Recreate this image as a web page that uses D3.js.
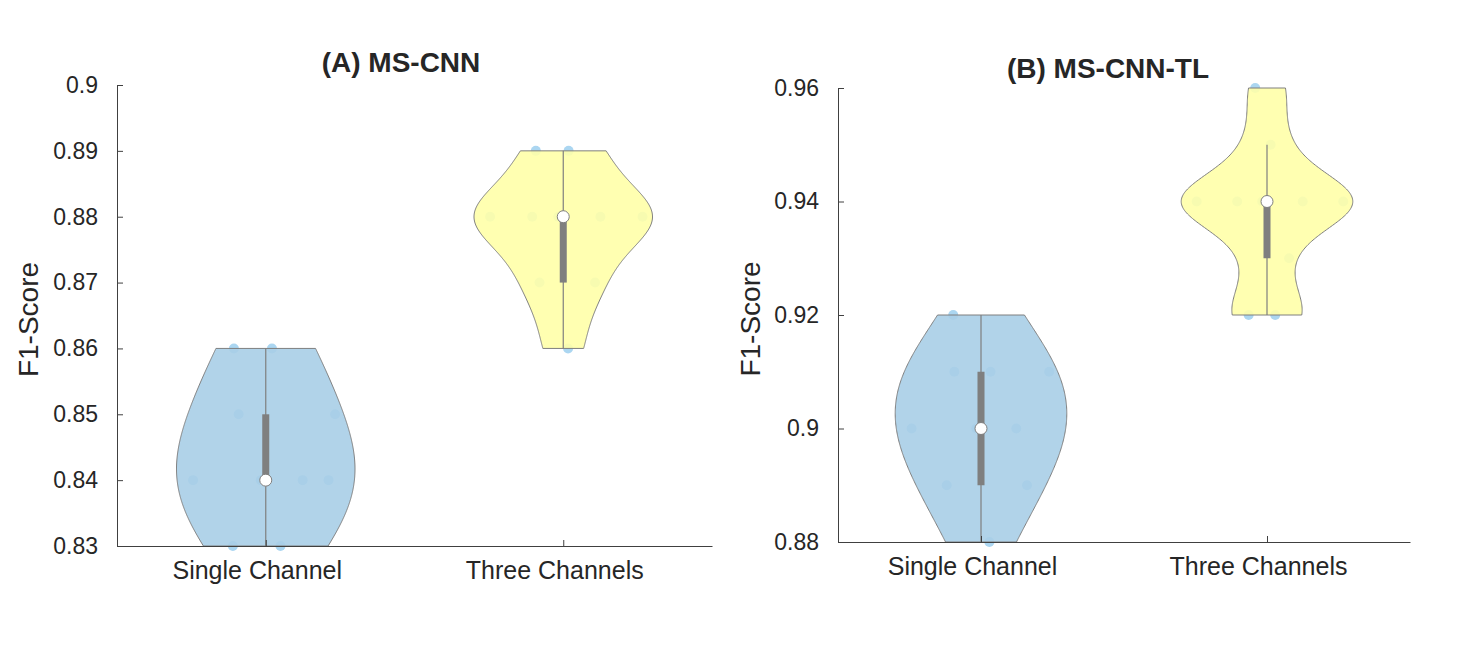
<!DOCTYPE html>
<html>
<head>
<meta charset="utf-8">
<script src="https://cdn.jsdelivr.net/npm/d3@7"></script>
<style>
  body { margin: 0; background: #fff; }
  svg text { font-family: "Liberation Sans", Arial, sans-serif; fill: #262626; }
</style>
</head>
<body>
<div id="chart"></div>
<script>
'use strict';

// F1-scores per run
var categories = ['Single Channel', 'Three Channels'];
var msCnnSingle = [0.83, 0.83, 0.84, 0.84, 0.84, 0.84, 0.85, 0.85, 0.86, 0.86];
var msCnnThree = [0.86, 0.87, 0.87, 0.88, 0.88, 0.88, 0.88, 0.88, 0.89, 0.89];
var msCnnTlSingle = [0.88, 0.89, 0.89, 0.90, 0.90, 0.90, 0.91, 0.91, 0.91, 0.92];
var msCnnTlThree = [0.92, 0.92, 0.93, 0.94, 0.94, 0.94, 0.94, 0.94, 0.95, 0.96];
var msCnnTicks = [0.83, 0.84, 0.85, 0.86, 0.87, 0.88, 0.89, 0.9];
var msCnnTlTicks = [0.88, 0.9, 0.92, 0.94, 0.96];

var violinColors = ['#a8cee7', '#ffffa9'];
var dotColor = '#abd6f1';
var grey = '#7f7f7f';

// matlab style quantile (position n*p + 0.5, linear between)
function quantile(sorted, p) {
  var n = sorted.length;
  var pos = n * p + 0.5;
  if (pos <= 1) return sorted[0];
  if (pos >= n) return sorted[n - 1];
  var lo = Math.floor(pos), f = pos - lo;
  return sorted[lo - 1] + f * (sorted[lo] - sorted[lo - 1]);
}

function kde(values) {
  var n = values.length;
  var med = d3.median(values);
  var mad = d3.median(values.map(function(v) { return Math.abs(v - med); }));
  var bw = (mad / 0.6745) * Math.pow(4 / (3 * n), 0.2);
  var lo = d3.min(values), hi = d3.max(values);
  var pts = d3.range(0, 201).map(function(i) {
    var x = lo + (hi - lo) * i / 200;
    var d = d3.sum(values, function(v) {
      var u = (x - v) / bw;
      return Math.exp(-0.5 * u * u);
    });
    return { v: x, d: d };
  });
  var max = d3.max(pts, function(p) { return p.d; });
  pts.forEach(function(p) { p.w = p.d / max; });
  return pts;
}

function widthAt(pts, v) {
  var i = d3.bisector(function(p) { return p.v; }).left(pts, v);
  if (i <= 0) return pts[0].w;
  if (i >= pts.length) return pts[pts.length - 1].w;
  var a = pts[i - 1], b = pts[i];
  return a.w + (b.w - a.w) * (v - a.v) / (b.v - a.v);
}

function appendAxes(g, scope) {
  var fmt = function(d) { return String(+d.toFixed(2)); };

  var ya = g.append('g')
    .attr('transform', 'translate(' + scope.left + ',0)')
    .call(d3.axisLeft(scope.y).tickValues(scope.ticks).tickFormat(fmt)
      .tickSizeInner(-6).tickSizeOuter(0).tickPadding(19));
  ya.selectAll('text').attr('font-size', 23).style('font-family', '"Liberation Sans", Arial, sans-serif').attr('fill', '#262626');

  var xa = g.append('g')
    .attr('transform', 'translate(0,' + scope.bottom + ')')
    .call(d3.axisBottom(scope.x).tickValues([1, 2])
      .tickFormat(function(d) { return categories[d - 1]; })
      .tickSizeInner(-6).tickSizeOuter(0).tickPadding(15));
  xa.selectAll('text').attr('font-size', 25).attr('dx', -9)
    .style('font-family', '"Liberation Sans", Arial, sans-serif').attr('fill', '#262626');

  g.selectAll('.domain, .tick line').attr('stroke', '#404040');

  g.append('text')
    .attr('x', scope.titleX)
    .attr('y', scope.titleY)
    .attr('text-anchor', 'middle')
    .attr('font-size', 28)
    .attr('font-weight', 'bold')
    .attr('fill', '#000')
    .text(scope.title);

  g.append('text')
    .attr('transform', 'translate(' + scope.labelX + ',' + ((scope.top + scope.bottom) / 2 + 4) + ') rotate(-90)')
    .attr('text-anchor', 'middle')
    .attr('dy', '0.35em')
    .attr('font-size', 28)
    .text('F1-Score');
}

function appendViolin(g, scope, values, i) {
  var pos = i + 1;
  var half = 0.3;
  var sorted = values.slice().sort(d3.ascending);
  var pts = kde(sorted);
  var x = scope.x, y = scope.y;

  // jittered raw points, sitting under the violin
  g.append('g').selectAll('circle')
    .data(sorted)
    .enter().append('circle')
    .attr('cx', function(d, k) {
      var j = (((k + 1) * 0.618034) % 1) * 2 - 1;
      return x(pos + j * half * widthAt(pts, d));
    })
    .attr('cy', function(d) { return y(d); })
    .attr('r', 5)
    .attr('fill', dotColor);

  var area = d3.area()
    .y(function(p) { return y(p.v); })
    .x0(function(p) { return x(pos - half * p.w); })
    .x1(function(p) { return x(pos + half * p.w); });

  g.append('path')
    .datum(pts)
    .attr('d', area)
    .attr('fill', violinColors[i])
    .attr('fill-opacity', 0.9)
    .attr('stroke', grey)
    .attr('stroke-width', 1);

  var q1 = quantile(sorted, 0.25), q3 = quantile(sorted, 0.75), med = d3.median(sorted);
  var iqr = q3 - q1;
  var wLo = d3.min(sorted.filter(function(v) { return v >= q1 - 1.5 * iqr; }));
  var wHi = d3.max(sorted.filter(function(v) { return v <= q3 + 1.5 * iqr; }));

  g.append('line')
    .attr('x1', x(pos)).attr('x2', x(pos))
    .attr('y1', y(wLo)).attr('y2', y(wHi))
    .attr('stroke', grey)
    .attr('stroke-width', 1.2);

  g.append('rect')
    .attr('x', x(pos) - 3.5)
    .attr('width', 7)
    .attr('y', y(q3))
    .attr('height', Math.max(0, y(q1) - y(q3)))
    .attr('fill', grey);

  g.append('circle')
    .attr('cx', x(pos))
    .attr('cy', y(med))
    .attr('r', 6)
    .attr('fill', '#fff')
    .attr('stroke', grey)
    .attr('stroke-width', 1);
}

function drawPanel(svg, scope) {
  scope.x = d3.scaleLinear().domain([0.5, 2.5]).range([scope.left, scope.right]);
  scope.y = d3.scaleLinear().domain([scope.ticks[0], scope.ticks[scope.ticks.length - 1]])
    .range([scope.bottom, scope.top]);

  var g = svg.append('g');
  scope.groups.forEach(function(values, i) {
    appendViolin(g, scope, values, i);
  });
  appendAxes(g, scope);
}

var svg = d3.select('#chart').append('svg')
  .attr('width', 1465)
  .attr('height', 657);

drawPanel(svg, {
  left: 117, right: 712, top: 85, bottom: 546,
  ticks: msCnnTicks,
  groups: [msCnnSingle, msCnnThree],
  title: '(A) MS-CNN', titleX: 401, titleY: 72,
  labelX: 28
});

drawPanel(svg, {
  left: 838, right: 1410, top: 88, bottom: 542,
  ticks: msCnnTlTicks,
  groups: [msCnnTlSingle, msCnnTlThree],
  title: '(B) MS-CNN-TL', titleX: 1108, titleY: 78,
  labelX: 750
});
</script>
</body>
</html>
